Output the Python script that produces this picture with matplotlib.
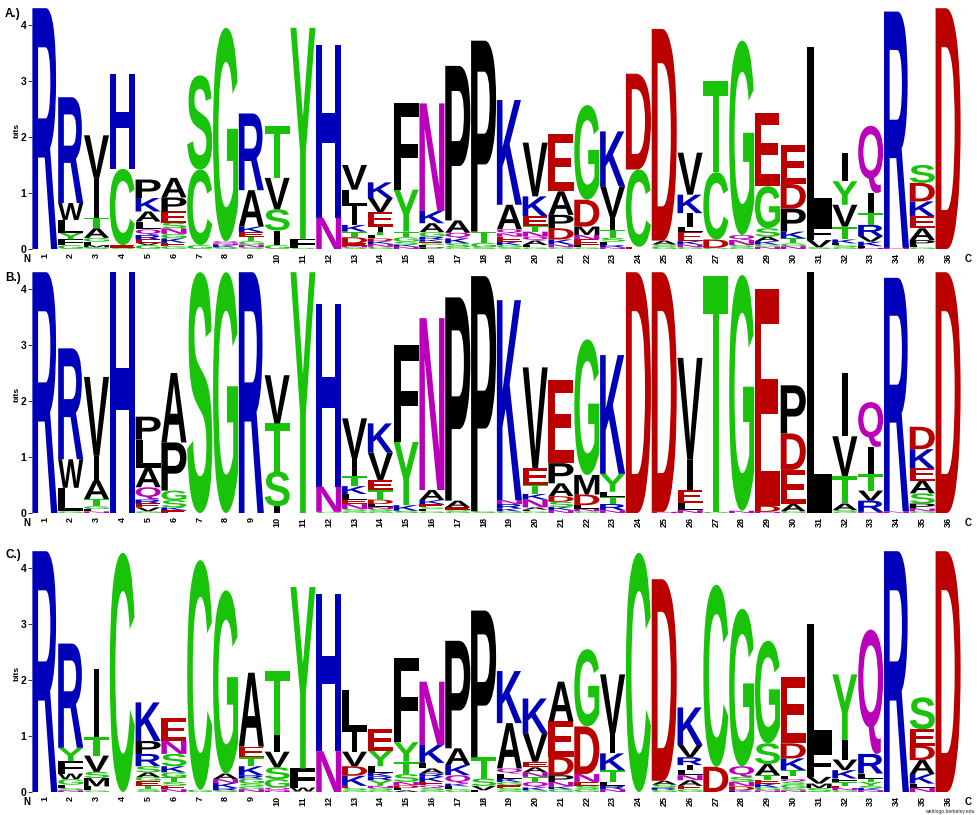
import numpy as np
import matplotlib
matplotlib.use("Agg")
import matplotlib.pyplot as plt
from matplotlib.textpath import TextPath
from matplotlib.patches import PathPatch
from matplotlib.path import Path
from matplotlib.font_manager import FontProperties

positions = list(range(1, 37))
bit_ticks = [0, 1, 2, 3, 4]
panel_titles = ["A.)", "B.)", "C.)"]

# Each column: letters from the bottom of the stack upward, and the top of each letter in bits
A_letters = ["R", "GFYLWR", "SMLGATIV", "SECH", "GVERQLAKP", "GEKGNSEPA", "GCS", "SKNQG", "SNGTEKAR", "GISVT",
             "SFY", "NH", "SNEDTKILV", "GNKDLTIEVK", "NKSGTYF", "PLSEKRGAKN", "GSKQAP", "SGTP", "SGKENQAK",
             "GLAQNTEKV", "GNKDPAE", "GLENMDG", "NRLSTIVK", "ECD", "GSAD", "GNKELIKV", "GDCT", "GSNQG", "NGKASGE",
             "NGTKPDE", "SVFL", "GSLKTVYI", "NLKVRTIQ", "NR", "GLPAEKDS", "D"]
A_tops = [[4.3], [.07, .17, .29, .52, .82, 2.71], [.03, .07, .13, .2, .37, .56, 1.27, 2.03], [.02, .07, 1.43, 3.13],
          [.07, .11, .17, .25, .35, .49, .67, .91, 1.24], [.05, .11, .19, .27, .37, .47, .67, .92, 1.27],
          [.07, 1.42, 3.1], [.03, .07, .1, .14, 3.95], [.03, .08, .14, .22, .3, .4, 1.05, 2.42], [.07, .33, .71, 1.27, 2.2],
          [.02, .18, 3.95], [.56, 3.65], [.03, .06, .1, .21, .31, .43, .77, 1.06, 1.5],
          [.04, .09, .14, .19, .25, .31, .4, .66, .91, 1.19], [.04, .08, .13, .21, .31, 1.06, 2.6],
          [.03, .07, .1, .13, .17, .22, .3, .46, .68, 2.6], [.03, .1, .19, .29, .51, 3.27], [.03, .11, .31, 3.72],
          [.03, .07, .13, .22, .28, .35, .79, 2.66], [.03, .07, .15, .22, .31, .41, .59, .94, 1.9],
          [.03, .08, .17, .37, .61, 1.03, 2.05], [.03, .07, .17, .25, .4, .88, 2.57],
          [.03, .07, .13, .2, .34, .57, 1.12, 2.1], [.04, 1.42, 3.13], [.04, .08, .15, 3.93],
          [.03, .08, .14, .31, .4, .64, .97, 1.72], [.02, .17, 1.37, 3.0], [.03, .07, .16, .25, 3.72],
          [.04, .08, .14, .22, .37, 1.12, 2.43], [.05, .1, .19, .31, .72, 1.16, 1.85], [.03, .16, .39, 3.6],
          [.03, .07, .1, .17, .4, .79, 1.21, 1.72], [.02, .05, .13, .23, .43, .64, 1.0, 2.2], [.02, 4.24],
          [.03, .07, .16, .37, .59, .85, 1.18, 1.5], [4.3]]

B_letters = ["R", "GLWR", "NLGTAIV", "H", "GVERQALP", "EKSGPA", "S", "G", "R", "ISTV", "Y", "GNH", "GSNELKTIV",
             "GSNLDTEVK", "SKYF", "GLSEKAN", "GSEAP", "SP", "GKRNK", "GLANKTEV", "NKSDAPE", "GNLDMG", "NRTLYK", "D",
             "ND", "NLEIV", "GT", "NG", "NDE", "GAEDP", "L", "GSATVI", "NRVTIQ", "NR", "GNPSAEKD", "D"]
B_tops = [[4.3], [.03, .45, .96, 2.94], [.03, .07, .12, .25, .58, 1.02, 2.43], [4.3],
          [.03, .1, .17, .24, .46, .81, 1.31, 1.72], [.05, .1, .23, .4, 1.26, 2.5], [4.3], [4.3], [4.3],
          [.12, .74, 1.6, 2.46], [4.3], [.02, .47, 3.73], [.03, .07, .16, .24, .34, .48, .66, .98, 1.69],
          [.03, .07, .11, .16, .24, .41, .59, 1.08, 1.6], [.04, .14, 1.27, 3.0], [.03, .07, .1, .16, .23, .41, 3.48],
          [.03, .06, .1, .22, 3.85], [.03, 4.23], [.03, .08, .16, .23, 3.8], [.03, .06, .1, .24, .34, .5, .8, 2.6],
          [.05, .11, .2, .3, .53, .89, 2.38], [.03, .08, .14, .33, .68, 3.1], [.05, .16, .28, .38, .7, 2.82], [4.3],
          [.02, 4.3], [.05, .18, .41, .95, 2.77], [.02, 4.23], [.04, 4.25], [.02, .13, 4.0], [.03, .16, .77, 1.42, 2.28],
          [4.3], [.02, .05, .17, .66, 1.37, 2.5], [.02, .22, .4, .69, 1.18, 1.98], [.03, 4.2],
          [.03, .08, .17, .35, .58, .8, 1.14, 1.54], [4.3]]

C_letters = ["R", "NSLGWFYR", "GLMSVTI", "C", "STEGASRPK", "NESTGKSNE", "GC", "SRKNAG", "NGSGRKTEA", "NQGSVIT",
             "GWFY", "NH", "GSEKDVIL", "GSNYRKLYE", "ALDNSTYF", "GSQEKRALKN", "GLKQKAP", "LVSTP", "GSEGKLQAK",
             "GKQTNAEVK", "GKNPDEA", "GSENDG", "NRLTKIV", "C", "GRSAD", "GEANLIRVK", "DC", "KDNSQG", "NGKETASG",
             "NSGSQLTKDE", "SMVFL", "GNETFKVIY", "NKSYTLRQ", "R", "NLKADES", "D"]
C_tops = [[4.3], [.03, .07, .13, .23, .33, .55, .79, 2.65], [.03, .1, .25, .36, .65, .98, 2.2], [4.27],
          [.05, .11, .2, .26, .35, .46, .68, .91, 1.6], [.05, .11, .18, .26, .35, .46, .68, .91, 1.32], [.04, 4.14],
          [.03, .07, .16, .23, .33, 3.6], [.05, .1, .15, .24, .3, .46, .62, .81, 2.13], [.03, .08, .23, .44, .72, 1.02, 2.16],
          [.01, .08, .42, 3.66], [.73, 3.54], [.03, .07, .11, .29, .46, .72, 1.08, 1.82],
          [.03, .07, .11, .21, .28, .34, .46, .74, 1.12], [.03, .07, .12, .18, .32, .54, .89, 2.4],
          [.03, .07, .12, .18, .27, .33, .42, .52, .84, 1.97], [.05, .1, .15, .3, .48, .78, 2.7], [.03, .11, .24, .62, 3.24],
          [.03, .07, .12, .18, .24, .33, .42, 1.23, 2.16], [.03, .08, .18, .27, .35, .44, .54, 1.05, 1.67],
          [.05, .1, .18, .3, .63, 1.26, 1.97], [.05, .11, .18, .32, 1.17, 2.55], [.05, .11, .18, .39, .69, 1.05, 2.1],
          [4.27], [.04, .08, .13, .2, 3.8], [.05, .11, .21, .3, .39, .48, .62, .84, 1.51], [.45, 3.7],
          [.03, .1, .18, .27, .46, 3.27], [.03, .08, .15, .22, .3, .5, .87, 2.7],
          [.03, .07, .13, .18, .23, .29, .39, .6, .87, 2.05], [.07, .15, .27, .74, 3.0],
          [.03, .07, .11, .17, .24, .39, .58, .93, 2.1], [.03, .07, .11, .18, .24, .33, .68, 2.9], [4.3],
          [.07, .15, .32, .57, .83, 1.12, 1.69], [4.3]]

GREEN, BLUE, RED, PURPLE, BLACK = "#19C30A", "#0000BB", "#BB0000", "#BB00BB", "#000000"
colors = {**{c: GREEN for c in "GSTYC"}, **{c: PURPLE for c in "NQ"}, **{c: BLUE for c in "KRH"},
          **{c: RED for c in "DE"}, **{c: BLACK for c in "PAWFLIMV"}}

W, H = 977, 815
FONT = "Liberation Sans"
bold = FontProperties(family=FONT, weight="bold")
plt.rcParams["font.family"] = FONT
plt.rcParams["font.weight"] = "bold"

fig = plt.figure(figsize=(W / 100, H / 100), dpi=100)
PX_LEFT, PX_RIGHT, PX_BIT, YMAX = 32, 961, 56.0, 4.3

_cache = {}
def glyph(letter):
    if letter not in _cache:
        p = TextPath((0, 0), letter, size=1, prop=bold)
        v = p.vertices.copy()
        real = v[p.codes != Path.CLOSEPOLY]
        lo, hi = real.min(axis=0), real.max(axis=0)
        _cache[letter] = ((v - lo) / (hi - lo), p.codes.copy())
    return _cache[letter]

def draw_logo(ax, letters, tops):
    for pos, stack, col_tops in zip(positions, letters, tops):
        assert len(stack) == len(col_tops), (pos, stack, col_tops)
        bottom = 0.0
        for letter, top in zip(stack, col_tops):
            v, codes = glyph(letter)
            width = 0.22 if letter == "I" else 0.97
            xy = np.column_stack([pos - width / 2 + v[:, 0] * width, bottom + v[:, 1] * (top - bottom)])
            ax.add_patch(PathPatch(Path(xy, codes), facecolor=colors[letter], edgecolor="none", lw=0))
            bottom = top

panels = [(A_letters, A_tops, 249, 14), (B_letters, B_tops, 513, 278), (C_letters, C_tops, 792, 555)]
for (letters, tops, base, title_y), title in zip(panels, panel_titles):
    ax = fig.add_axes([PX_LEFT / W, 1 - base / H, (PX_RIGHT - PX_LEFT) / W, PX_BIT * YMAX / H])
    draw_logo(ax, letters, tops)
    ax.set_xlim(0.5, 36.5)
    ax.set_ylim(0, YMAX)
    for s in ax.spines.values():
        s.set_visible(False)
    ax.patch.set_alpha(0)
    ax.set_yticks(bit_ticks)
    ax.tick_params(axis="y", length=3, width=0.7, pad=1, labelsize=7.5, color="#333333")
    ax.set_xticks(positions)
    ax.set_xticklabels([str(p) for p in positions], rotation=90, fontsize=6.5, va="top", ha="center")
    ax.tick_params(axis="x", length=0, pad=3)
    fig.text(5 / W, 1 - title_y / H, title, fontsize=8.5, fontweight="bold", va="center", ha="left")
    fig.text(17 / W, 1 - (base - 119) / H, "bits", fontsize=6, fontweight="bold", rotation=90, va="center", ha="center")
    fig.text(27 / W, 1 - (base + 10) / H, "N", fontsize=7, fontweight="bold", va="center", ha="center")
    fig.text(968 / W, 1 - (base + 10) / H, "C", fontsize=7, fontweight="bold", va="center", ha="center")

fig.text(950 / W, 1 - 811 / H, "weblogo.berkeley.edu", fontsize=3.6, fontweight="normal", va="center", ha="center", color="#222222")
fig.savefig("out.png", dpi=100)
